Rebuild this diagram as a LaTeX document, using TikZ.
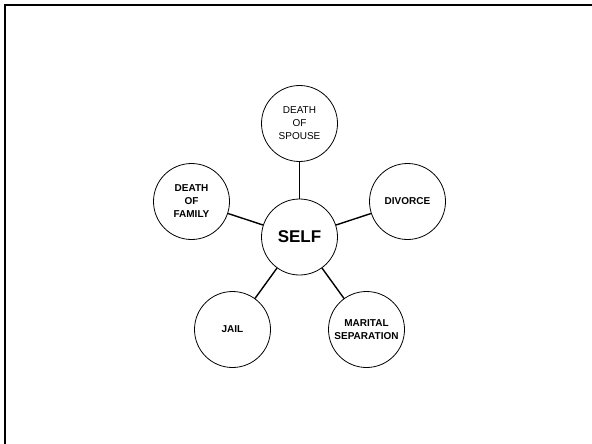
\documentclass[tikz,border=0pt]{standalone}
\usepackage{fontspec}
\setmainfont{Liberation Sans}
\usepackage{tikz}

\begin{document}
\begin{tikzpicture}[
        x=1pt, y=-1pt,
        event/.style={circle, draw, line width=0.8pt, minimum size=76pt, inner sep=0pt,
            align=center, font=\fontsize{10}{13}\selectfont\bfseries},
        plain/.style={event, font=\fontsize{10}{13}\selectfont},
        self/.style={event, font=\fontsize{17}{20}\selectfont\bfseries},
        link/.style={draw, line width=1.4pt}
    ]

    \useasboundingbox (0,0) rectangle (592,444);

    % frame
    \coordinate (tl) at (5,5);
    \coordinate (tr) at (592,5);
    \coordinate (bl) at (5,444);
    \draw[line width=2.2pt] (bl) -- (tl) -- (tr);

    % center
    \node[self] (self) at (299.5,237) {SELF};

    % events
    \node[plain] (spouse) at (299.5,123.5) {DEATH\\OF\\SPOUSE};
    \node[event] (divorce) at (407.5,201.5) {DIVORCE};
    \node[event] (separation) at (366.5,329.5) {MARITAL\\SEPARATION};
    \node[event] (jail) at (232.5,329.5) {JAIL};
    \node[event] (family) at (191.5,201.5) {DEATH\\OF\\FAMILY};

    % links
    \path[link] (self) -- (spouse);
    \path[link] (self) -- (divorce);
    \path[link] (self) -- (separation);
    \path[link] (self) -- (jail);
    \path[link] (self) -- (family);

\end{tikzpicture}
\end{document}
